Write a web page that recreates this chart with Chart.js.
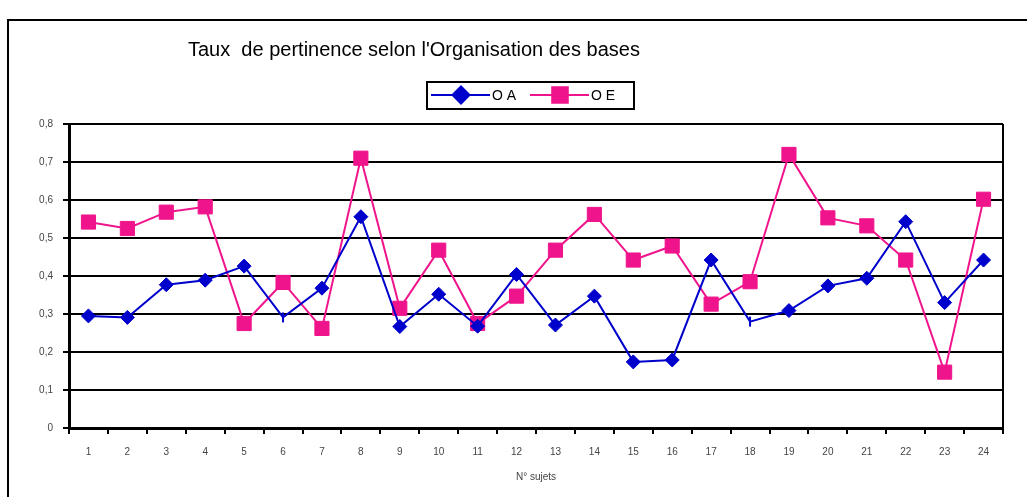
<!DOCTYPE html>
<html>
<head>
<meta charset="utf-8">
<script src="https://cdn.jsdelivr.net/npm/chart.js@4/dist/chart.umd.min.js"></script>
<style>
  html, body { margin: 0; padding: 0; background: #fff; }
  #wrap { width: 1027px; height: 497px; }
</style>
</head>
<body>
<div id="wrap"><canvas id="chart" width="1027" height="497"></canvas></div>
<script>
'use strict';

// data
const sujets = ['1', '2', '3', '4', '5', '6', '7', '8', '9', '10', '11', '12',
                '13', '14', '15', '16', '17', '18', '19', '20', '21', '22', '23', '24'];
const oa = [0.295, 0.291, 0.377, 0.389, 0.426, 0.291, 0.368, 0.556, 0.267, 0.352, 0.268, 0.404,
            0.271, 0.347, 0.174, 0.179, 0.442, 0.280, 0.309, 0.374, 0.394, 0.543, 0.330, 0.442];
const oe = [0.542, 0.525, 0.568, 0.582, 0.275, 0.383, 0.262, 0.710, 0.315, 0.468, 0.275, 0.347,
            0.468, 0.562, 0.442, 0.479, 0.326, 0.385, 0.720, 0.553, 0.532, 0.442, 0.147, 0.602];
const yTicks = [0, 0.1, 0.2, 0.3, 0.4, 0.5, 0.6, 0.7, 0.8];

const BLUE = '#0000cc';
const PINK = '#f0148c';
const FONT = '"Liberation Sans", Arial, sans-serif';
const NARROW = '"Liberation Sans Narrow", "Arial Narrow", "Liberation Sans", sans-serif';

// frame, title, legend box, plot border
const decor = {
  id: 'decor',
  beforeDraw(chart) {
    const ctx = chart.ctx;
    ctx.save();
    ctx.fillStyle = '#fff';
    ctx.fillRect(0, 0, chart.width, chart.height);
    ctx.strokeStyle = '#000';
    ctx.lineWidth = 2;
    ctx.strokeRect(8, 20, chart.width + 20, chart.height + 20);
    ctx.restore();
  },
  afterDraw(chart) {
    const ctx = chart.ctx;
    const a = chart.chartArea;
    ctx.save();
    ctx.strokeStyle = '#000';
    ctx.lineWidth = 2;
    ctx.beginPath();
    ctx.moveTo(a.right, a.top);
    ctx.lineTo(a.right, a.bottom);
    ctx.stroke();

    // title
    ctx.fillStyle = '#000';
    ctx.font = '20px ' + FONT;
    ctx.textBaseline = 'alphabetic';
    ctx.textAlign = 'left';
    ctx.fillText("Taux  de pertinence selon l'Organisation des bases", 188, 56);

    // legend
    ctx.lineWidth = 2;
    ctx.strokeRect(427, 82, 207, 27);
    const y = 95;
    let x = 431;
    chart.data.datasets.forEach(ds => {
      ctx.strokeStyle = ds.borderColor;
      ctx.lineWidth = 2;
      ctx.beginPath();
      ctx.moveTo(x, y);
      ctx.lineTo(x + 59, y);
      ctx.stroke();
      ctx.fillStyle = ds.borderColor;
      Chart.helpers.drawPoint(ctx, {pointStyle: ds.legendStyle, radius: ds.legendRadius, rotation: 0, borderWidth: 1},
        x + 30, y);
      ctx.fillStyle = '#000';
      ctx.font = '14px ' + NARROW;
      ctx.textBaseline = 'middle';
      ctx.fillText(ds.label, x + 61, y + 1);
      x += 99;
    });
    ctx.restore();
  }
};

const noMarker = c => c.dataIndex === 5 || c.dataIndex === 17;

new Chart(document.querySelector('#chart'), {
  type: 'line',
  data: {
    labels: sujets,
    datasets: [
      {
        label: 'O A', data: oa,
        borderColor: BLUE, backgroundColor: BLUE,
        borderWidth: 2, tension: 0,
        pointStyle: c => noMarker(c) ? 'line' : 'rectRot',
        rotation: c => noMarker(c) ? 90 : 0,
        pointRadius: c => noMarker(c) ? 5 : 7,
        pointBorderWidth: c => noMarker(c) ? 2 : 1,
        legendStyle: 'rectRot', legendRadius: 8.5
      },
      {
        label: 'O E', data: oe,
        borderColor: PINK, backgroundColor: PINK,
        borderWidth: 2, tension: 0,
        pointStyle: 'rect', pointRadius: 10, pointBorderWidth: 1,
        legendStyle: 'rect', legendRadius: 11
      }
    ]
  },
  options: {
    responsive: false,
    animation: false,
    layout: {padding: {top: 124, right: 24, left: 0, bottom: 0}},
    plugins: {
      legend: {display: false},
      title: {display: false},
      tooltip: {enabled: false}
    },
    scales: {
      x: {
        offset: true,
        grid: {
          offset: true,
          drawOnChartArea: false,
          drawTicks: true,
          tickLength: 6,
          color: '#000',
          lineWidth: 2
        },
        border: {display: true, color: '#000', width: 3},
        ticks: {
          color: '#444',
          font: {family: FONT, size: 10},
          padding: 12,
          maxRotation: 0,
          autoSkip: false
        },
        title: {
          display: true,
          text: 'N° sujets',
          color: '#444',
          font: {family: FONT, size: 10},
          padding: {top: 4, bottom: 14}
        },
        afterFit(scale) { scale.height = 69; }
      },
      y: {
        min: 0,
        max: 0.8,
        afterBuildTicks(scale) { scale.ticks = yTicks.map(v => ({value: v})); },
        grid: {
          color: '#000',
          lineWidth: 2,
          drawTicks: true,
          tickLength: 6
        },
        border: {display: true, color: '#000', width: 3},
        ticks: {
          color: '#444',
          font: {family: FONT, size: 10},
          padding: 10,
          callback: v => v === 0 ? '0' : v.toFixed(1).replace('.', ',')
        },
        afterFit(scale) { scale.width = 69; }
      }
    }
  },
  plugins: [decor]
});
</script>
</body>
</html>
